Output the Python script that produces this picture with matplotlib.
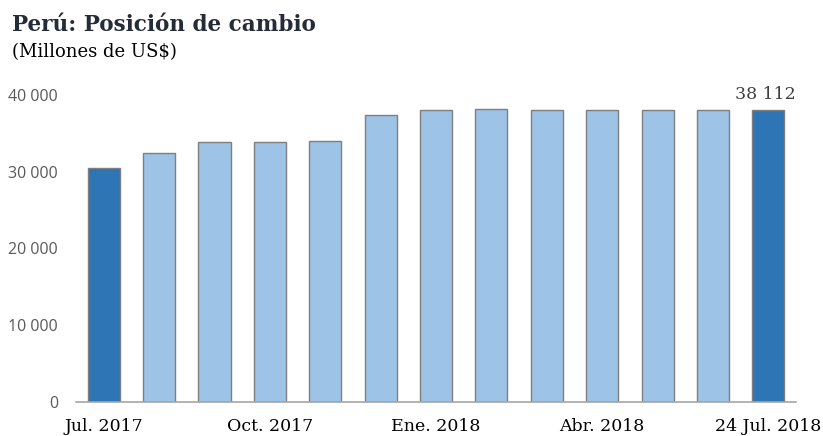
import matplotlib.pyplot as plt

# monthly values, Jul. 2017 .. Jun. 2018 plus 24 Jul. 2018
months = ['Jul. 2017', 'Ago. 2017', 'Set. 2017', 'Oct. 2017', 'Nov. 2017', 'Dic. 2017',
          'Ene. 2018', 'Feb. 2018', 'Mar. 2018', 'Abr. 2018', 'May. 2018', 'Jun. 2018',
          '24 Jul. 2018']
values = [30500, 32500, 33900, 33900, 34000, 37450, 38030, 38200, 38120, 38070, 38120, 38120, 38112]
highlight = [0, 12]
tick_idx = [0, 3, 6, 9, 12]
yticks = [0, 10000, 20000, 30000, 40000]

light = '#9dc3e6'
dark = '#2e75b6'

fig = plt.figure(figsize=(8.23, 4.36), dpi=100)
ax = fig.add_axes([0.0923, 0.0787, 0.875, 0.703])

colors = [dark if i in highlight else light for i in range(len(values))]
ax.bar(range(len(values)), values, width=0.58, color=colors,
       edgecolor='#7f7f7f', linewidth=1.0, zorder=2)

ax.set_xlim(-0.5, len(values) - 0.5)
ax.set_ylim(0, 40000)

ax.set_yticks(yticks)
ax.set_yticklabels([f'{v:,}'.replace(',', ' ') for v in yticks],
                   fontfamily='Open Sans', fontsize=11.5, color='#595959')
ax.set_xticks(tick_idx)
ax.set_xticklabels([months[i] for i in tick_idx],
                   fontfamily='DejaVu Serif', fontsize=12.5, color='black')
ax.tick_params(axis='both', length=0)
ax.tick_params(axis='y', pad=13)
ax.tick_params(axis='x', pad=12)

for s in ['top', 'right', 'left']:
    ax.spines[s].set_visible(False)
ax.spines['bottom'].set_color('#a6a6a6')
ax.spines['bottom'].set_linewidth(1.2)

last = len(values) - 1
ax.annotate(f'{values[last]:,}'.replace(',', ' '), (last, values[last]),
            xytext=(-2, 5), textcoords='offset points', ha='center', va='bottom',
            fontfamily='DejaVu Serif', fontsize=12.5, color='#404040')

fig.text(0.015, 0.93, 'Perú: Posición de cambio', fontfamily='DejaVu Serif',
         fontweight='bold', fontsize=15.5, color='#262b38', va='baseline')
fig.text(0.015, 0.868, '(Millones de US$)', fontfamily='DejaVu Serif',
         fontsize=13, color='black', va='baseline')

fig.savefig('out.png', dpi=100)
